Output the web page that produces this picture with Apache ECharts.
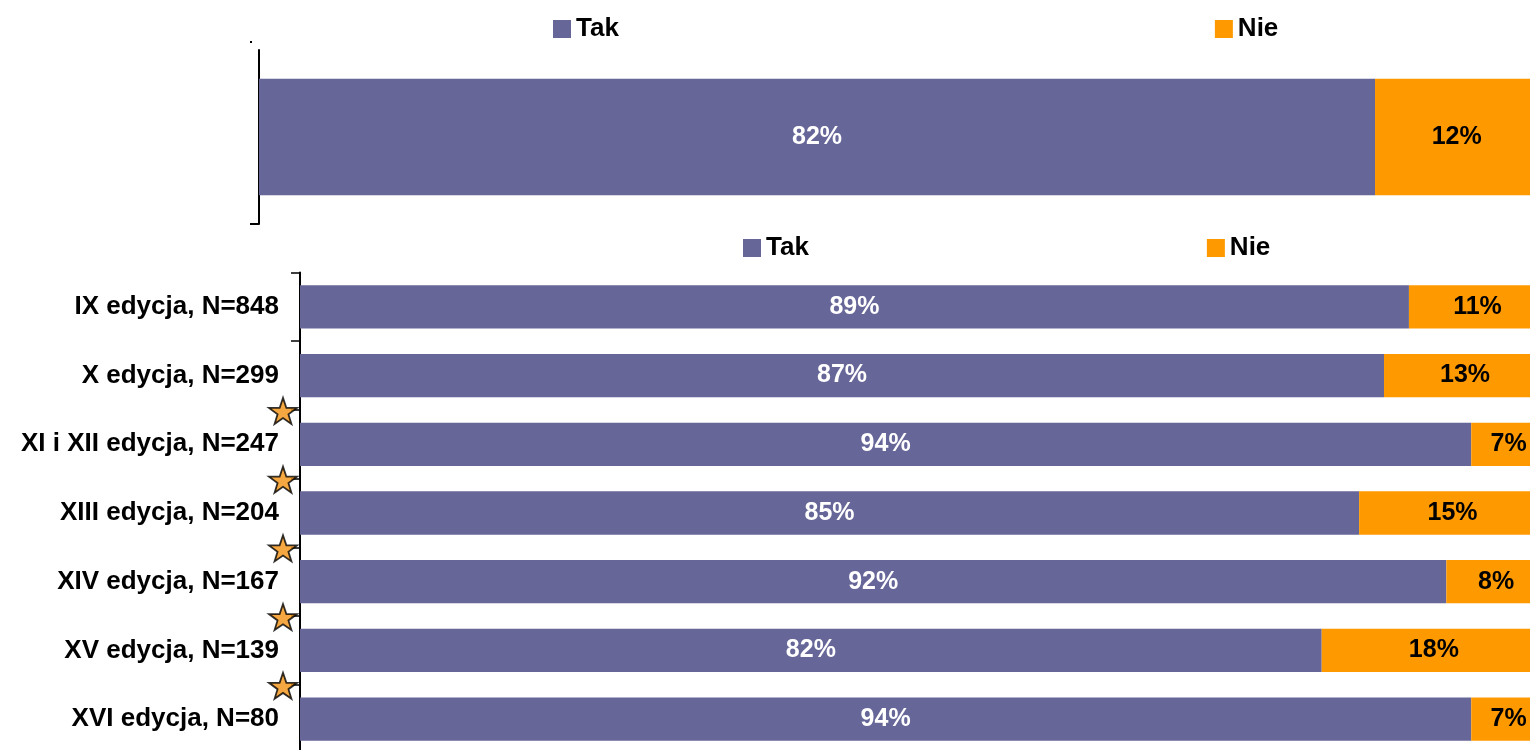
<!DOCTYPE html>
<html>
<head>
<meta charset="utf-8">
<script src="https://cdn.jsdelivr.net/npm/echarts@6/dist/echarts.min.js"></script>
<style>
  html, body { margin: 0; padding: 0; background: #fff; }
  #chart { width: 1530px; height: 750px; }
</style>
</head>
<body>
<div id="chart"></div>
<script>
// Overall result (single bar)
const totalTak = [82];
const totalNie = [12];

// Results per edition
const editions = [
  'IX edycja, N=848',
  'X edycja, N=299',
  'XI i XII edycja, N=247',
  'XIII edycja, N=204',
  'XIV edycja, N=167',
  'XV edycja, N=139',
  'XVI edycja, N=80'
];
const editionTak = [89, 87, 94, 85, 92, 82, 94];
const editionNie = [11, 13, 7, 15, 8, 18, 7];
// Star between an edition and the one before it: significant change
const changedFromPrevious = [false, false, true, true, true, true, true];

const PURPLE = '#666699';
const ORANGE = '#FF9900';
const STAR = '#F29111';
const FONT = '"Liberation Sans", Arial, sans-serif';

const starPath = 'path://M50,0 L61.8,35.1 L98.9,35.1 L69,57.3 L79.4,91 L50,70.5 L20.6,91 L31,57.3 L1.1,35.1 L38.2,35.1 Z';

const starPoints = [];
changedFromPrevious.forEach((flag, i) => {
  if (flag) starPoints.push([0, i - 0.5]);
});

const labelStyle = (color) => ({
  show: true,
  position: 'inside',
  formatter: '{c}%',
  color: color,
  fontFamily: FONT,
  fontWeight: 'bold',
  fontSize: 25
});

const legendText = { color: '#000', fontFamily: FONT, fontWeight: 'bold', fontSize: 26 };

const chart = echarts.init(document.getElementById('chart'), null, { renderer: 'canvas' });

chart.setOption({
  animation: false,
  backgroundColor: '#fff',
  legend: [
    {
      data: ['Tak', 'Nie'], left: 553, top: 16, padding: 0, icon: 'rect',
      itemWidth: 18, itemHeight: 18, itemGap: 596, textStyle: legendText,
      selectedMode: false
    },
    {
      data: ['Tak', 'Nie'], left: 743, top: 235, padding: 0, icon: 'rect',
      itemWidth: 18, itemHeight: 18, itemGap: 398, textStyle: legendText,
      selectedMode: false
    }
  ],
  // plot areas run past the right edge of the page
  grid: [
    { left: 259, top: 50, height: 174, width: 1361, outerBoundsMode: 'none', containLabel: false },
    { left: 300, top: 272.5, height: 481, width: 1246, outerBoundsMode: 'none', containLabel: false }
  ],
  xAxis: [
    { type: 'value', gridIndex: 0, min: 0, max: 100, show: false },
    { type: 'value', gridIndex: 1, min: 0, max: 100, show: false }
  ],
  yAxis: [
    {
      type: 'category', gridIndex: 0, data: [''],
      axisLine: { show: true, lineStyle: { color: '#000', width: 2 } },
      axisTick: { show: false },
      axisLabel: { show: false }
    },
    {
      type: 'category', gridIndex: 1, data: editions, inverse: true,
      axisLine: { show: true, lineStyle: { color: '#000', width: 2 } },
      axisTick: { show: true, length: 9, lineStyle: { color: '#000', width: 1.5 } },
      axisLabel: {
        margin: 21, color: '#000', fontFamily: FONT, fontWeight: 'bold', fontSize: 26
      }
    },
    {
      type: 'value', gridIndex: 1, min: -0.5, max: 6.5, inverse: true, show: false
    }
  ],
  series: [
    {
      name: 'Tak', type: 'bar', stack: 'top', xAxisIndex: 0, yAxisIndex: 0,
      data: totalTak, barCategoryGap: '33%', clip: false,
      itemStyle: { color: PURPLE }, label: labelStyle('#fff')
    },
    {
      name: 'Nie', type: 'bar', stack: 'top', xAxisIndex: 0, yAxisIndex: 0,
      data: totalNie, barCategoryGap: '33%', clip: false,
      itemStyle: { color: ORANGE }, label: labelStyle('#000')
    },
    {
      name: 'Tak', type: 'bar', stack: 'ed', xAxisIndex: 1, yAxisIndex: 1,
      data: editionTak, barCategoryGap: '37%', clip: true,
      itemStyle: { color: PURPLE }, label: labelStyle('#fff')
    },
    {
      name: 'Nie', type: 'bar', stack: 'ed', xAxisIndex: 1, yAxisIndex: 1,
      data: editionNie, barCategoryGap: '37%', clip: true,
      itemStyle: { color: ORANGE }, label: labelStyle('#000')
    },
    {
      name: 'zmiana', type: 'scatter', xAxisIndex: 1, yAxisIndex: 2,
      data: starPoints, symbol: starPath, symbolKeepAspect: true,
      symbolSize: 28, symbolOffset: [-17, 1], clip: false, z: 5,
      itemStyle: { color: STAR, borderColor: '#000', borderWidth: 1.8 },
      silent: true
    }
  ],
  graphic: [
    // bottom tick of the upper chart's axis
    { type: 'line', shape: { x1: 250, y1: 224, x2: 259, y2: 224 }, style: { stroke: '#000', lineWidth: 2 } },
    { type: 'rect', shape: { x: 250, y: 41, width: 2, height: 2 }, style: { fill: '#000' } }
  ]
});
</script>
</body>
</html>
